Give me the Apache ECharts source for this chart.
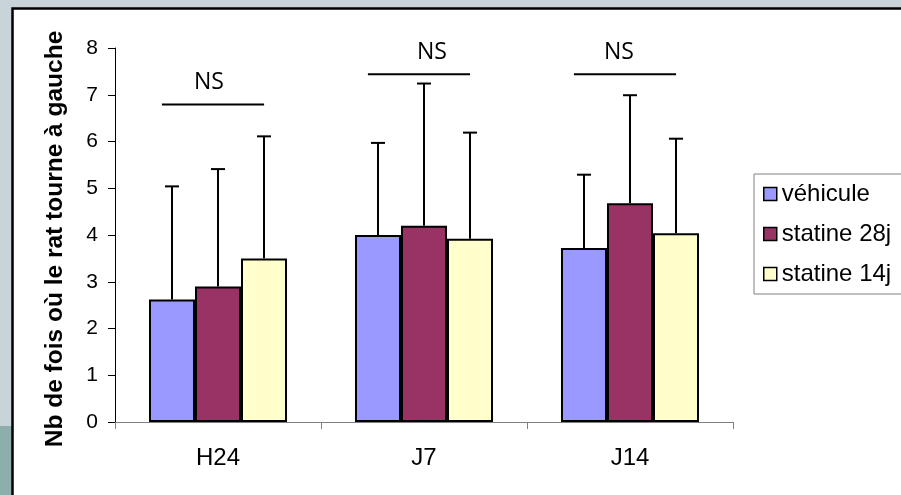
<!DOCTYPE html>
<html>
<head>
<meta charset="utf-8">
<script src="https://cdn.jsdelivr.net/npm/echarts@6/dist/echarts.min.js"></script>
<style>
  html, body { margin: 0; padding: 0; background: #c8d4da; }
  #chart { width: 901px; height: 495px; }
</style>
</head>
<body>
<div id="chart"></div>
<script>
// Groups on the x axis
const categories = ['H24', 'J7', 'J14'];
// Legend / series names
const seriesNames = ['véhicule', 'statine 28j', 'statine 14j'];
// Mean values per group
const vehicule = [2.62, 4.0, 3.72];
const statine28 = [2.9, 4.2, 4.68];
const statine14 = [3.5, 3.92, 4.04];
// Upper end of the error bar (mean + SD)
const vehiculeUpper = [5.04, 5.97, 5.29];
const statine28Upper = [5.41, 7.24, 6.99];
const statine14Upper = [6.11, 6.19, 6.06];
// Level of the "NS" bracket above each group
const nsLevels = [6.79, 7.44, 7.44];
const nsText = 'NS';
// Y axis ticks
const yTicks = [0, 1, 2, 3, 4, 5, 6, 7, 8];

const colors = ['#9999ff', '#993366', '#ffffcc'];
const means = [vehicule, statine28, statine14];
const uppers = [vehiculeUpper, statine28Upper, statine14Upper];
const CAT_GAP = 0.33;
const FONT = '"Liberation Sans", Arial, sans-serif';

const chart = echarts.init(document.getElementById('chart'), null, { renderer: 'canvas' });

const barSeries = seriesNames.map((name, k) => ({
  name: name,
  type: 'bar',
  data: means[k],
  barGap: '0%',
  barCategoryGap: (CAT_GAP * 100) + '%',
  itemStyle: { color: colors[k], borderColor: '#000', borderWidth: 2 },
  z: 2
}));

// Upper half error bars, placed over the k-th bar of each group
const errorSeries = seriesNames.map((name, k) => ({
  type: 'custom',
  name: name + ' SD',
  data: categories.map((c, i) => [i, means[k][i], uppers[k][i]]),
  encode: { x: 0, y: [1, 2] },
  z: 3,
  silent: true,
  renderItem: function (params, api) {
    const i = api.value(0);
    const band = api.size([1, 0])[0];
    const barW = band * (1 - CAT_GAP) / 3;
    const base = api.coord([i, api.value(1)]);
    const top = api.coord([i, api.value(2)]);
    const x = base[0] + (k - 1) * barW;
    const style = { stroke: '#000', lineWidth: 2 };
    return {
      type: 'group',
      children: [
        { type: 'line', shape: { x1: x, y1: base[1], x2: x, y2: top[1] }, style: style },
        { type: 'line', shape: { x1: x - 7, y1: top[1], x2: x + 7, y2: top[1] }, style: style }
      ]
    };
  }
}));

// "NS" brackets above each group
const nsSeries = {
  type: 'custom',
  name: 'NS',
  data: nsLevels.map((v, i) => [i, v]),
  encode: { x: 0, y: 1 },
  z: 4,
  silent: true,
  renderItem: function (params, api) {
    const i = api.value(0);
    const band = api.size([1, 0])[0];
    const p = api.coord([i, api.value(1)]);
    const half = band * 0.248;
    const cx = p[0] - 5;
    const textShift = [-4, 13, -6][i];
    return {
      type: 'group',
      children: [
        { type: 'line', shape: { x1: cx - half, y1: p[1], x2: cx + half, y2: p[1] },
          style: { stroke: '#000', lineWidth: 2 } },
        { type: 'text', x: cx + textShift, y: p[1] - 22,
          style: { text: nsText, fill: '#000', font: '23px "Open Sans", sans-serif',
                   align: 'center', verticalAlign: 'middle' } }
      ]
    };
  }
};

chart.setOption({
  animation: false,
  backgroundColor: '#c8d4da',
  textStyle: { fontFamily: FONT },
  graphic: [
    { type: 'rect', z: -10, silent: true, shape: { x: 0, y: 426, width: 12, height: 69 },
      style: { fill: '#8daeab' } },
    { type: 'rect', z: -9, silent: true, shape: { x: 12.5, y: 8.5, width: 900, height: 500 },
      style: { fill: '#ffffff', stroke: '#000', lineWidth: 2.5 } }
  ],
  grid: { left: 115, top: 48, right: 168, bottom: 73, containLabel: false },
  legend: {
    orient: 'vertical',
    left: 754,
    top: 174,
    data: seriesNames,
    icon: 'rect',
    itemWidth: 13,
    itemHeight: 13,
    itemGap: 16,
    itemTextGap: 12,
    padding: [8, 40, 8, 9],
    borderColor: '#808080',
    borderWidth: 1,
    backgroundColor: '#fff',
    itemStyle: { borderColor: '#000', borderWidth: 1.5 },
    textStyle: { fontSize: 24, color: '#000', fontFamily: FONT }
  },
  xAxis: {
    type: 'category',
    data: categories,
    axisLine: { lineStyle: { color: '#808080', width: 1 } },
    axisTick: { show: true, length: 7, lineStyle: { color: '#808080' } },
    axisLabel: { color: '#000', fontSize: 24, margin: 24, fontFamily: FONT },
    splitLine: { show: false }
  },
  yAxis: {
    type: 'value',
    min: yTicks[0],
    max: yTicks[yTicks.length - 1],
    interval: yTicks[1] - yTicks[0],
    name: 'Nb de fois où le rat tourne à gauche',
    nameLocation: 'middle',
    nameGap: 47,
    nameTextStyle: { fontSize: 24.5, fontWeight: 'bold', color: '#000', fontFamily: FONT,
                     padding: [0, 8, 0, 0] },
    axisLine: { show: true, lineStyle: { color: '#000', width: 1 } },
    axisTick: { show: true, length: 7, lineStyle: { color: '#000' } },
    axisLabel: { color: '#000', fontSize: 21, margin: 17, fontFamily: FONT },
    splitLine: { show: false }
  },
  series: [...barSeries, ...errorSeries, nsSeries]
});
</script>
</body>
</html>
